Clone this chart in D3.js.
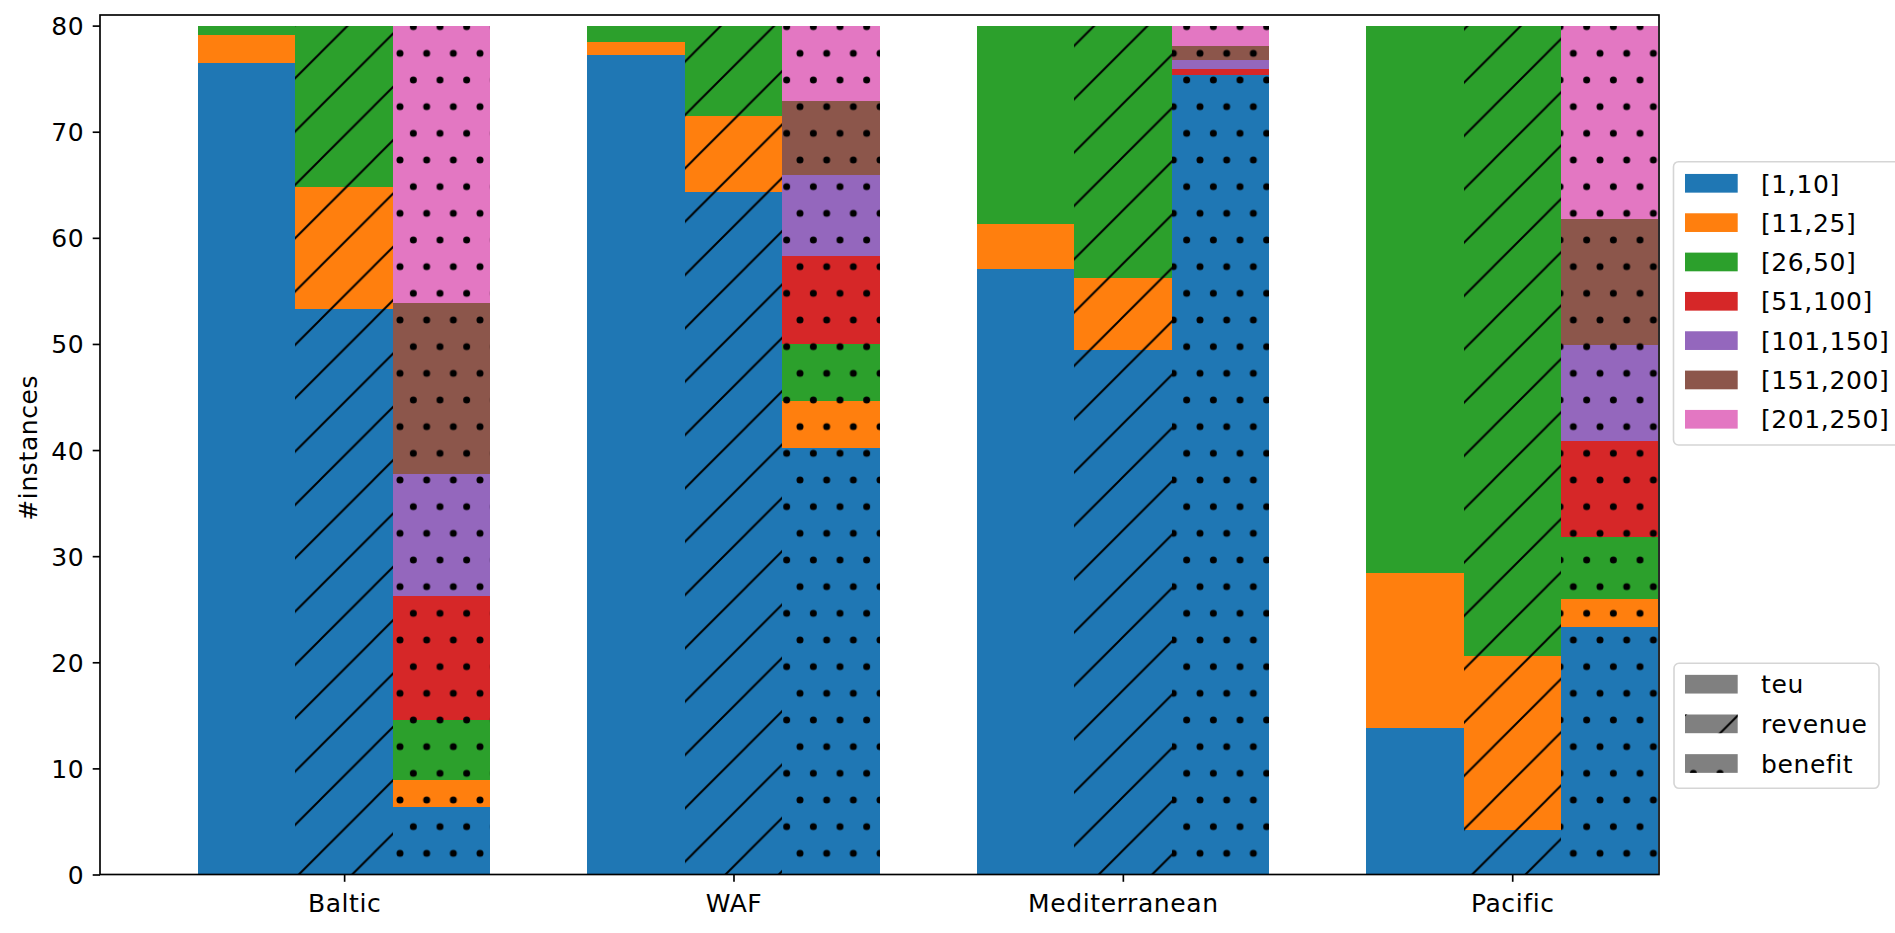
<!DOCTYPE html>
<html>
<head>
<meta charset="utf-8">
<script src="https://cdn.jsdelivr.net/npm/d3@7"></script>
<style>
  html, body { margin: 0; padding: 0; background: #ffffff; }
  svg { display: block; }
  text { font-family: "DejaVu Sans", sans-serif; letter-spacing: 0.6px; }
</style>
</head>
<body>
<script>
// ---------------- data ----------------
const regions = ["Baltic", "WAF", "Mediterranean", "Pacific"];
const bins = ["[1,10]", "[11,25]", "[26,50]", "[51,100]", "[101,150]", "[151,200]", "[201,250]"];
const metrics = ["teu", "revenue", "benefit"];
const binColors = ["#1f77b4", "#ff7f0e", "#2ca02c", "#d62728", "#9467bd", "#8c564b", "#e377c2"];

// instances per bin, one row per region (Baltic, WAF, Mediterranean, Pacific)
const teuCounts = [
  [76.5, 2.6, 0.9, 0, 0, 0, 0],
  [77.2, 1.3, 1.5, 0, 0, 0, 0],
  [57.1, 4.2, 18.7, 0, 0, 0, 0],
  [13.8, 14.6, 51.6, 0, 0, 0, 0]
];
const revenueCounts = [
  [53.3, 11.5, 15.2, 0, 0, 0, 0],
  [64.3, 7.2, 8.5, 0, 0, 0, 0],
  [49.4, 6.8, 23.8, 0, 0, 0, 0],
  [4.2, 16.4, 59.4, 0, 0, 0, 0]
];
const benefitCounts = [
  [6.4, 2.5, 5.7, 11.6, 11.5, 16.2, 26.1],
  [40.2, 4.4, 5.4, 8.3, 7.6, 7.0, 7.1],
  [75.3, 0, 0.07, 0.5, 0.9, 1.35, 1.88],
  [23.3, 2.7, 5.8, 9.1, 9.0, 11.9, 18.2]
];
const yTicks = [0, 10, 20, 30, 40, 50, 60, 70, 80];
const yLabel = "#instances";

// ---------------- layout ----------------
const W = 1895, H = 933;
const pLeft = 100, pRight = 1659, pTop = 15, pBottom = 874.5;
const FS = 25;
const barW = 0.25;

const svg = d3.select("body").append("svg").attr("width", W).attr("height", H);

const x = d3.scaleLinear().domain([-0.627, 3.377]).range([pLeft, pRight]);
const y = d3.scaleLinear().domain([0, 81]).range([pBottom, pTop]);

// ---------------- patterns (anchored to page coordinates) ----------------
const defs = svg.append("defs");
const P = 53.333;
const hatch = defs.append("pattern").attr("id", "hatchRev")
  .attr("patternUnits", "userSpaceOnUse").attr("width", P).attr("height", P);
hatch.append("path")
  .attr("d", `M-3,3 L3,-3 M0,${P} L${P},0 M${P - 3},${P + 3} L${P + 3},${P - 3}`)
  .attr("stroke", "#000").attr("stroke-width", 2).attr("fill", "none");

const DW = 26.667, DH = 53.333, r = 3.5;
const dots = defs.append("pattern").attr("id", "dotsBen")
  .attr("patternUnits", "userSpaceOnUse").attr("width", DW).attr("height", DH);
[[0, 0], [DW, 0], [0, DH], [DW, DH], [DW / 2, DH / 2]].forEach(([cx, cy]) => {
  dots.append("circle").attr("cx", cx).attr("cy", cy).attr("r", r).attr("fill", "#000");
});
const patternFor = { teu: null, revenue: "url(#hatchRev)", benefit: "url(#dotsBen)" };

// ---------------- bars ----------------
const metricData = { teu: teuCounts, revenue: revenueCounts, benefit: benefitCounts };
const stack = d3.stack().keys(d3.range(bins.length));

metrics.forEach((m, j) => {
  const rows = metricData[m];
  const series = stack(rows);
  const offset = (j - 1) * barW;
  const g = svg.append("g").attr("class", "metric-" + m).attr("shape-rendering", "crispEdges");
  series.forEach((s, k) => {
    g.selectAll(null).data(s.map((d, i) => ({ i, y0: d[0], y1: d[1] })))
      .join("rect")
      .attr("x", d => x(d.i + offset - barW / 2))
      .attr("width", x(barW) - x(0))
      .attr("y", d => y(d.y1))
      .attr("height", d => y(d.y0) - y(d.y1))
      .attr("fill", binColors[k]);
  });
  if (patternFor[m]) {
    const totals = rows.map(rw => d3.sum(rw));
    g.selectAll(null).data(totals.map((t, i) => ({ i, t })))
      .join("rect")
      .attr("x", d => x(d.i + offset - barW / 2))
      .attr("width", x(barW) - x(0))
      .attr("y", d => y(d.t))
      .attr("height", d => y(0) - y(d.t))
      .attr("fill", patternFor[m]);
  }
});

// ---------------- axes ----------------
const yAxis = d3.axisLeft(y).tickValues(yTicks).tickSize(7.3).tickPadding(8.5).tickFormat(d3.format("d"));
const gy = svg.append("g").attr("transform", `translate(${pLeft},0)`).call(yAxis);
gy.select(".domain").remove();
gy.selectAll(".tick line").attr("stroke", "#000").attr("stroke-width", 1.67);
gy.selectAll(".tick text").attr("font-size", FS).attr("font-family", "DejaVu Sans").attr("fill", "#000").attr("dy", "0.36em");

const xAxis = d3.axisBottom(x).tickValues(d3.range(regions.length)).tickSize(7.3).tickPadding(12)
  .tickFormat(i => regions[i]);
const gx = svg.append("g").attr("transform", `translate(0,${pBottom})`).call(xAxis);
gx.select(".domain").remove();
gx.selectAll(".tick line").attr("stroke", "#000").attr("stroke-width", 1.67);
gx.selectAll(".tick text").attr("font-size", FS).attr("font-family", "DejaVu Sans").attr("fill", "#000");

// spines
svg.append("rect").attr("x", pLeft).attr("y", pTop).attr("width", pRight - pLeft).attr("height", pBottom - pTop)
  .attr("fill", "none").attr("stroke", "#000").attr("stroke-width", 1.67);

// y label
svg.append("text").attr("transform", `translate(37,${(pTop + pBottom) / 2 + 3}) rotate(-90)`)
  .attr("text-anchor", "middle").attr("font-size", FS).attr("fill", "#000").text(yLabel);

// ---------------- legends ----------------
function legendBox(x0, y0, w, h) {
  svg.append("rect").attr("x", x0).attr("y", y0).attr("width", w).attr("height", h)
    .attr("rx", 5).attr("ry", 5)
    .attr("fill", "#ffffff").attr("fill-opacity", 0.8)
    .attr("stroke", "#d5d5d5").attr("stroke-width", 1.6);
}

// bins legend
legendBox(1673.5, 161.7, 240, 283.3);
const lg1 = svg.append("g");
bins.forEach((b, k) => {
  const cy = 183.3 + k * 39.33;
  lg1.append("rect").attr("x", 1685).attr("y", cy - 9.35).attr("width", 52.7).attr("height", 18.7)
    .attr("fill", binColors[k]);
  lg1.append("text").attr("x", 1761).attr("y", cy + 9.2).attr("font-size", FS).attr("fill", "#000").text(b);
});

// metrics legend
legendBox(1674, 663.3, 205, 125);
const lg2 = svg.append("g");
metrics.forEach((m, j) => {
  const cy = 684.2 + j * 39.65;
  lg2.append("rect").attr("x", 1685).attr("y", cy - 9.35).attr("width", 52.7).attr("height", 18.7)
    .attr("fill", "#808080");
  if (patternFor[m]) {
    lg2.append("rect").attr("x", 1685).attr("y", cy - 9.35).attr("width", 52.7).attr("height", 18.7)
      .attr("fill", patternFor[m]);
  }
  lg2.append("text").attr("x", 1761).attr("y", cy + 9.2).attr("font-size", FS).attr("fill", "#000").text(m);
});
</script>
</body>
</html>
